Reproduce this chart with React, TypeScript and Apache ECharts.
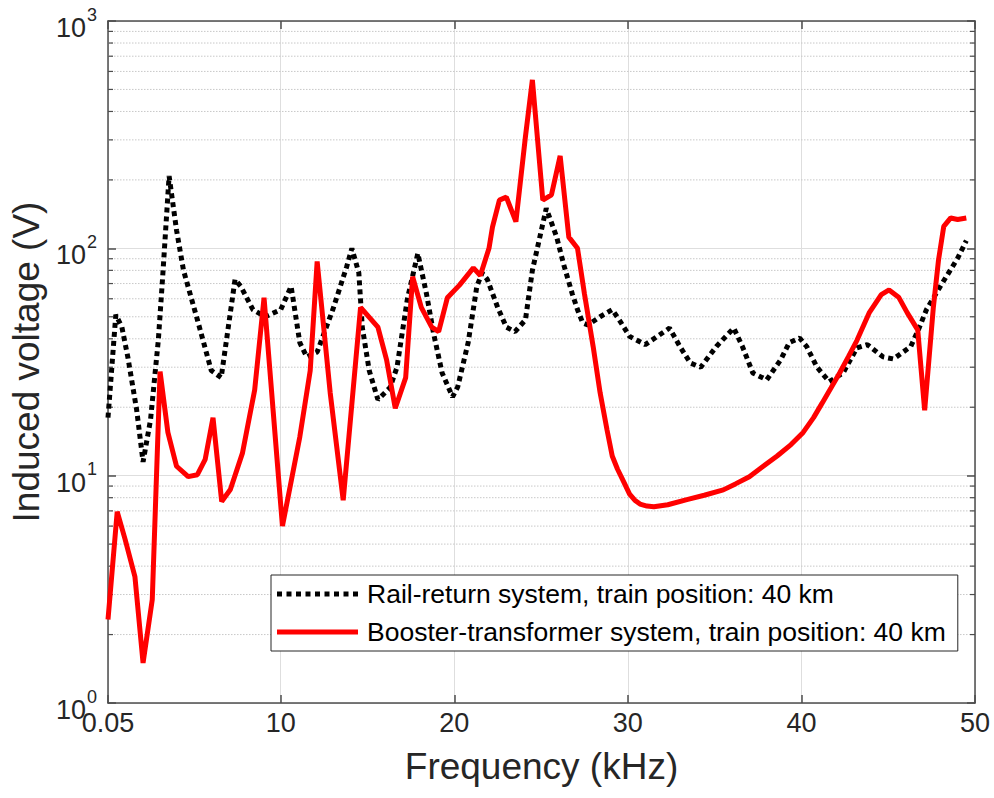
import React, { useEffect, useRef } from "react";
import * as echarts from "echarts";

const FONT = "'Liberation Sans', Arial, Helvetica, sans-serif";

const railName = "Rail-return system, train position: 40 km";
const boosterName = "Booster-transformer system, train position: 40 km";

const railFreq = [0.05, 0.5, 0.85, 1.2, 1.7, 2.07, 2.5, 2.95, 3.2, 3.57, 4.0, 4.4, 5.2, 6.0, 6.57, 7.37, 7.7, 8.4, 9.1, 10.0, 10.6, 11.1, 11.5, 12.1, 13.0, 13.8, 14.1, 14.5, 14.7, 15.1, 15.6, 16.3, 16.7, 17.3, 17.9, 18.4, 18.8, 19.3, 19.9, 20.2, 20.8, 21.3, 21.6, 21.9, 22.5, 23.0, 23.5, 24.1, 24.5, 25.3, 25.9, 26.3, 26.8, 27.1, 27.4, 27.7, 28.4, 29.1, 29.5, 30.1, 31.0, 31.7, 32.4, 33.0, 33.6, 34.2, 35.1, 36.1, 36.6, 37.2, 38.0, 38.8, 39.3, 39.9, 40.3, 40.9, 41.6, 42.4, 43.2, 43.8, 44.7, 45.3, 46.3, 46.8, 47.2, 48.0, 48.7, 49.0, 49.5];
const railVolt = [18, 51, 45, 33, 19.5, 11.5, 17.6, 39.5, 75, 208, 120, 80, 48.5, 29, 27, 73, 68, 53.7, 50, 53.7, 68, 38.5, 33.3, 35, 53.7, 83, 100, 78, 45, 29, 21.6, 24.4, 30, 60, 95, 63, 42.5, 28.3, 22.2, 24.6, 38.5, 68, 78, 73, 55, 45, 43, 48.5, 80, 150, 112, 85, 63, 53.7, 47, 46, 50, 53.7, 48.5, 41, 37.7, 41, 44.6, 37, 31.3, 30, 37, 44.6, 37, 28.3, 26.4, 32.3, 38.5, 40.3, 37, 30, 25.9, 28.3, 36.5, 37.7, 33.3, 32.6, 37, 45, 53.7, 68, 83, 90.5, 108];

const boosterFreq = [0.05, 0.58, 1.04, 1.6, 2.07, 2.6, 3.05, 3.5, 4.0, 4.67, 5.2, 5.65, 6.1, 6.6, 7.1, 7.8, 8.5, 9.04, 10.1, 11.1, 11.7, 12.1, 12.85, 13.6, 14.6, 15.6, 16.1, 16.6, 17.2, 17.6, 18.1, 18.7, 19.1, 19.6, 20.3, 21.1, 21.5, 22.0, 22.2, 22.6, 23.0, 23.55, 24.1, 24.5, 25.1, 25.6, 26.1, 26.6, 27.1, 27.5, 28.0, 28.4, 28.8, 29.1, 29.4, 29.7, 30.1, 30.4, 30.7, 31.1, 31.5, 32.3, 33.4, 34.4, 35.5, 36.2, 37.0, 37.8, 38.6, 39.4, 40.1, 40.7, 41.2, 41.7, 42.2, 42.7, 43.2, 43.9, 44.6, 45.05, 45.6, 46.1, 46.7, 47.1, 47.6, 47.9, 48.2, 48.6, 49.0, 49.5];
const boosterVolt = [2.33, 6.95, 5.23, 3.6, 1.5, 2.85, 28.7, 15.5, 11.0, 9.9, 10.1, 11.8, 18, 7.7, 8.7, 12.6, 23.8, 60.6, 6.0, 14.8, 29, 87.5, 23.2, 7.8, 55, 45, 32.3, 19.8, 27, 75, 55, 45, 43, 60.6, 68.9, 82, 76, 100, 124, 163, 168, 131, 310, 551, 163, 172, 255, 112, 100, 63, 37, 23.2, 15.9, 12.2, 10.7, 9.6, 8.3, 7.8, 7.5, 7.35, 7.3, 7.45, 7.85, 8.2, 8.66, 9.2, 9.9, 11.0, 12.2, 13.7, 15.5, 18.0, 20.9, 24.3, 28.3, 33.3, 39.4, 52, 62.6, 65.6, 61, 52, 43.8, 19.4, 55, 89, 125, 136, 134, 136];

const xMin = 0.05;
const xMax = 50;
const yMin = 1;
const yMax = 1000;
const minorLevels = [2, 3, 4, 5, 6, 7, 8, 9, 20, 30, 40, 50, 60, 70, 80, 90, 200, 300, 400, 500, 600, 700, 800, 900];

const AXIS_COLOR = "#4d4d4d";
const TEXT_COLOR = "#262626";

const dottedIcon =
  "path://" +
  [0, 9.5, 19, 28.5, 38, 47.5, 57, 66.5, 76].map((x) => `M${x},0h5v5h-5z`).join("");
const solidIcon = "path://M0,0h81v5h-81z";

export default function App() {
  const ref = useRef<HTMLDivElement>(null);
  useEffect(() => {
    document.body.style.margin = "0";
    const chart = echarts.init(ref.current!, null, { renderer: "svg" });
    const rail = railFreq.map((f, i) => [f, railVolt[i]]);
    const booster = boosterFreq.map((f, i) => [f, boosterVolt[i]]);
    const option: any = {
      animation: false,
      backgroundColor: "#ffffff",
      grid: { left: 108, right: 19, top: 21, bottom: 95, containLabel: false, outerBoundsMode: "none" },
      legend: {
        orient: "vertical",
        left: 271,
        top: 575,
        padding: [4, 12, 4, 6],
        itemGap: 8,
        itemWidth: 81,
        itemHeight: 30,
        borderColor: "#262626",
        borderWidth: 1,
        backgroundColor: "#ffffff",
        textStyle: { fontFamily: FONT, fontSize: 26.5, lineHeight: 30, color: "#000", padding: [0, 0, 0, 4] },
        data: [
          { name: railName, icon: dottedIcon },
          { name: boosterName, icon: solidIcon },
        ],
      },
      xAxis: [
        {
          type: "value",
          min: xMin,
          max: xMax,
          splitNumber: 5,
          position: "bottom",
          name: "Frequency (kHz)",
          nameLocation: "middle",
          nameGap: 45,
          nameTextStyle: { fontFamily: FONT, fontSize: 37, color: TEXT_COLOR },
          axisLine: { show: true, onZero: false, lineStyle: { color: AXIS_COLOR, width: 1.5 } },
          axisTick: { show: true, inside: true, length: 8, lineStyle: { color: AXIS_COLOR, width: 1.5 } },
          axisLabel: {
            fontFamily: FONT,
            fontSize: 27,
            color: TEXT_COLOR,
            margin: 6,
            showMinLabel: true,
            showMaxLabel: true,
            formatter: (v: number) => String(Math.round(v * 100) / 100),
          },
          splitLine: { show: true, lineStyle: { color: "#dedede", width: 1 } },
        },
        {
          type: "value",
          min: xMin,
          max: xMax,
          splitNumber: 5,
          position: "top",
          axisLine: { show: true, onZero: false, lineStyle: { color: AXIS_COLOR, width: 1.5 } },
          axisTick: { show: true, inside: true, length: 8, lineStyle: { color: AXIS_COLOR, width: 1.5 } },
          axisLabel: { show: false },
          splitLine: { show: false },
        },
      ],
      yAxis: [
        {
          type: "log",
          logBase: 10,
          min: yMin,
          max: yMax,
          position: "left",
          name: "Induced voltage (V)",
          nameLocation: "middle",
          nameGap: 60,
          nameTextStyle: { fontFamily: FONT, fontSize: 37, color: TEXT_COLOR },
          axisLine: { show: true, onZero: false, lineStyle: { color: AXIS_COLOR, width: 1.5 } },
          axisTick: { show: true, inside: true, length: 8, lineStyle: { color: AXIS_COLOR, width: 1.5 } },
          axisLabel: {
            margin: 11,
            formatter: (v: number) => `{b|10}{s|${Math.round(Math.log10(v))}}`,
            rich: {
              b: { fontFamily: FONT, fontSize: 27, color: TEXT_COLOR, padding: [14, 0, 0, 0] },
              s: { fontFamily: FONT, fontSize: 18, color: TEXT_COLOR, padding: [0, 0, 13, 1] },
            },
          },
          splitLine: { show: true, lineStyle: { color: "#dedede", width: 1 } },
        },
        {
          type: "log",
          logBase: 10,
          min: yMin,
          max: yMax,
          position: "right",
          axisLine: { show: true, onZero: false, lineStyle: { color: AXIS_COLOR, width: 1.5 } },
          axisTick: { show: true, inside: true, length: 8, lineStyle: { color: AXIS_COLOR, width: 1.5 } },
          axisLabel: { show: false },
          splitLine: { show: false },
        },
      ],
      series: [
        {
          type: "custom",
          name: "minor",
          xAxisIndex: 0,
          yAxisIndex: 0,
          silent: true,
          z: 1,
          clip: false,
          data: minorLevels.map((v) => [xMin, v]),
          renderItem: (params: any, api: any) => {
            const v = api.value(1);
            const l = api.coord([xMin, v]);
            const r = api.coord([xMax, v]);
            const st = { stroke: AXIS_COLOR, lineWidth: 1.2 };
            return {
              type: "group",
              children: [
                { type: "line", shape: { x1: l[0], y1: l[1], x2: r[0], y2: r[1] }, style: { stroke: "#c8c8c8", lineWidth: 1, lineDash: [1.5, 1.5] } },
                { type: "line", shape: { x1: l[0], y1: l[1], x2: l[0] + 5, y2: l[1] }, style: st },
                { type: "line", shape: { x1: r[0] - 5, y1: r[1], x2: r[0], y2: r[1] }, style: st },
              ],
            };
          },
        },
        {
          type: "line",
          name: railName,
          data: rail,
          showSymbol: false,
          symbol: "none",
          z: 3,
          lineStyle: { color: "#000000", width: 5, type: [5, 4], cap: "butt" },
          itemStyle: { color: "#000000" },
        },
        {
          type: "line",
          name: boosterName,
          data: booster,
          showSymbol: false,
          symbol: "none",
          z: 4,
          lineStyle: { color: "#ff0000", width: 5 },
          itemStyle: { color: "#ff0000" },
        },
      ],
    };
    chart.setOption(option);
    return () => chart.dispose();
  }, []);
  return (
    <div
      ref={ref}
      style={{ position: "fixed", left: 0, top: 0, width: 994, height: 798, background: "#fff" }}
    />
  );
}
